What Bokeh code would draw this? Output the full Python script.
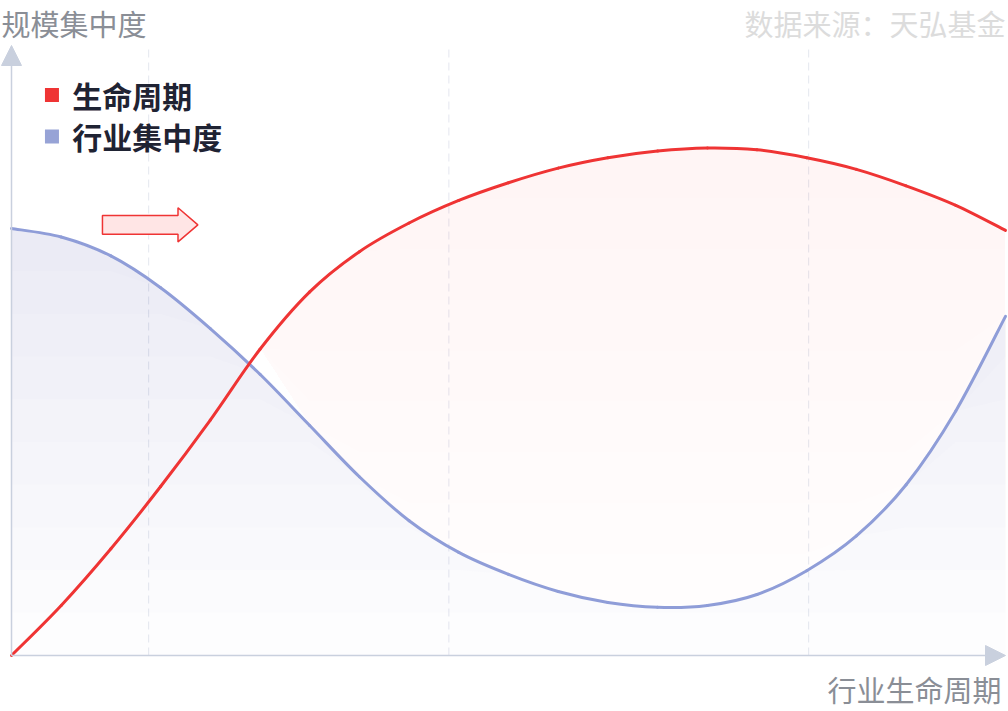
import numpy as np
from bokeh.plotting import figure
from bokeh.models import Range1d, Label, Arrow, NormalHead
from bokeh.embed import file_html
from bokeh.resources import INLINE

# ---------------- data ----------------
stage = [0, 5, 10, 15, 20, 25, 30, 35, 40, 45, 50, 55, 60, 65, 70, 75, 80, 85, 90, 95, 100]
life_cycle = [0.0, 8.2, 17.5, 27.7, 38.6, 50.2, 59.6, 66.2, 70.9, 74.6, 77.5,
              79.9, 81.6, 82.7, 83.2, 82.9, 81.6, 79.7, 77.0, 73.8, 69.7]
concentration = [70.0, 68.6, 65.5, 60.3, 53.6, 46.1, 37.7, 29.3, 22.1, 16.9, 13.3,
                 10.5, 8.7, 7.9, 8.2, 10.0, 13.9, 19.6, 28.0, 40.1, 55.6]
stage_marks = [13.8, 44.0, 80.2]
series_names = ["生命周期", "行业集中度"]
y_title = "规模集中度"
x_title = "行业生命周期"
source_note = "数据来源：天弘基金"

# ---------------- styles ----------------
RED = "#ef3434"
BLUE = "#8f9dd8"
BLUE_FILL = "#9aa3d4"
AXIS = "#c9d0de"
FONT = "Noto Sans CJK SC"

p = figure(width=1008, height=711, output_backend="svg", toolbar_location=None,
           x_range=Range1d(-1.107, 100.302), y_range=Range1d(-9.180, 107.377),
           x_axis_location=None, y_axis_location=None,
           min_border=0, min_border_left=0, min_border_right=0,
           min_border_top=0, min_border_bottom=0)
p.outline_line_color = None
p.background_fill_color = "white"
p.border_fill_color = "white"
for g in p.grid:
    g.visible = False

xs = np.array(stage, dtype=float)
red = np.array(life_cycle, dtype=float)
blue = np.array(concentration, dtype=float)

# dashed vertical guides
p.segment(x0=stage_marks, y0=[0] * len(stage_marks), x1=stage_marks, y1=[100] * len(stage_marks),
          line_color="#e4e7ef", line_width=1, line_dash="8 5")


def gradient_area(ys, floor, color, top_alpha, n=10):
    top = float(np.max(ys))
    alpha = 1 - (1 - top_alpha) ** (1.0 / n)
    for a in np.linspace(0, top, n, endpoint=False):
        lo = np.minimum(np.maximum(a, floor), ys)
        p.varea(x=xs, y1=lo, y2=ys, fill_color=color, fill_alpha=alpha)


# red area only shows where it lies above the blue area
above = red > blue
above_both = above & np.concatenate([[False], above[:-1]])
red_floor = np.where(above_both, blue, red)
gradient_area(red, red_floor, RED, 0.055)
gradient_area(blue, np.zeros_like(blue), BLUE_FILL, 0.22)


def smooth(ys, color, width):
    pts = np.column_stack([xs, ys])
    n = len(pts)
    x0, y0, x1, y1, cx0, cy0, cx1, cy1 = [], [], [], [], [], [], [], []
    for i in range(n - 1):
        pm = pts[max(i - 1, 0)]
        pa = pts[i]
        pb = pts[i + 1]
        pn = pts[min(i + 2, n - 1)]
        c1 = pa + (pb - pm) / 6.0
        c2 = pb - (pn - pa) / 6.0
        x0.append(pa[0]); y0.append(pa[1]); x1.append(pb[0]); y1.append(pb[1])
        cx0.append(c1[0]); cy0.append(c1[1]); cx1.append(c2[0]); cy1.append(c2[1])
    p.bezier(x0=x0, y0=y0, x1=x1, y1=y1, cx0=cx0, cy0=cy0, cx1=cx1, cy1=cy1,
             line_color=color, line_width=width, line_cap="round")


smooth(blue, BLUE, 3)
smooth(red, RED, 3)

# axes with arrow heads
p.add_layout(Arrow(end=NormalHead(size=20, fill_color=AXIS, line_color=AXIS, line_width=1),
                   x_start=0, y_start=0, x_end=0, y_end=100, line_color=AXIS, line_width=1.5))
p.add_layout(Arrow(end=NormalHead(size=20, fill_color=AXIS, line_color=AXIS, line_width=1),
                   x_start=0, y_start=0, x_end=100, y_end=0, line_color=AXIS, line_width=1.5))

# decorative block arrow (direction of the life cycle)
ax, ay, alen, body_h, head_h, head_len = 9.15, 70.6, 9.6, 3.1, 5.6, 2.0
arrow_x = [ax, ax + alen - head_len, ax + alen - head_len, ax + alen,
           ax + alen - head_len, ax + alen - head_len, ax]
arrow_y = [ay + body_h / 2, ay + body_h / 2, ay + head_h / 2, ay,
           ay - head_h / 2, ay - body_h / 2, ay - body_h / 2]
p.patch(arrow_x, arrow_y, fill_color="#ffe5e5", line_color=RED, line_width=1.5)

# legend (manual, to match the reference)
p.scatter(x=[4.07, 4.07], y=[91.9, 85.1], marker="square", size=14,
          fill_color=[RED, "#97a3d6"], line_color=None)
for name, yy in zip(series_names, [91.9, 85.1]):
    p.add_layout(Label(x=6.1, y=yy, text=name, text_font=FONT, text_font_size="30px",
                       text_font_style="bold", text_color="#1f2333",
                       text_baseline="middle", text_align="left"))

# titles
p.add_layout(Label(x=-1.0, y=103.65, text=y_title, text_font=FONT, text_font_size="29px",
                   text_color="#8a8e96", text_baseline="middle", text_align="left"))
p.add_layout(Label(x=100.0, y=103.65, text=source_note, text_font=FONT, text_font_size="29px",
                   text_color="#dcdcdc", text_baseline="middle", text_align="right"))
p.add_layout(Label(x=99.6, y=-5.55, text=x_title, text_font=FONT, text_font_size="29px",
                   text_color="#8a8e96", text_baseline="middle", text_align="right"))

open("out.html", "w").write(file_html(p, INLINE))
